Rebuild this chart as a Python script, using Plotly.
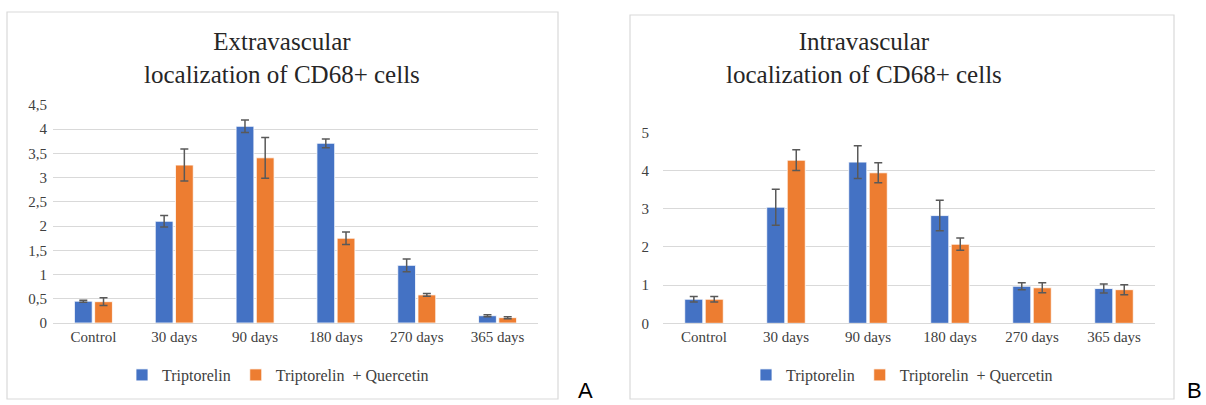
import plotly.graph_objects as go

categories = ["Control", "30 days", "90 days", "180 days", "270 days", "365 days"]
series_names = ["Triptorelin", "Triptorelin  + Quercetin"]

# Panel A: extravascular
extra_trip = [0.45, 2.10, 4.06, 3.71, 1.19, 0.15]
extra_trip_err = [0.02, 0.12, 0.13, 0.09, 0.13, 0.02]
extra_quer = [0.44, 3.26, 3.41, 1.75, 0.58, 0.11]
extra_quer_err = [0.08, 0.33, 0.42, 0.13, 0.03, 0.02]

# Panel B: intravascular
intra_trip = [0.63, 3.04, 4.22, 2.82, 0.97, 0.91]
intra_trip_err = [0.07, 0.47, 0.43, 0.40, 0.09, 0.12]
intra_quer = [0.63, 4.27, 3.94, 2.07, 0.93, 0.88]
intra_quer_err = [0.07, 0.27, 0.26, 0.16, 0.13, 0.13]

extra_tickvals = [0, 0.5, 1, 1.5, 2, 2.5, 3, 3.5, 4, 4.5]
extra_ticktext = ["0", "0,5", "1", "1,5", "2", "2,5", "3", "3,5", "4", "4,5"]
intra_tickvals = [0, 1, 2, 3, 4, 5]
intra_ticktext = ["0", "1", "2", "3", "4", "5"]

title_a = "Extravascular<br>localization of CD68+ cells"
title_b = "Intravascular<br>localization of CD68+ cells"

BLUE = "#4472C4"
ORANGE = "#ED7D31"
ERR = "#595959"
GRID = "#d9d9d9"
TXT = "#404040"
SERIF = "Liberation Serif"
SANS = "Liberation Sans"

W, H = 1206, 405
def px(x):
    return x / W
def py(y):
    return 1 - y / H

fig = go.Figure()

def add_pair(xa, ya, vals1, err1, vals2, err2, legend):
    for name, vals, err, col in [(series_names[0], vals1, err1, BLUE),
                                 (series_names[1], vals2, err2, ORANGE)]:
        fig.add_trace(go.Bar(
            x=categories, y=vals, name=name, xaxis=xa, yaxis=ya,
            marker=dict(color=col, line=dict(color="white", width=0.8)),
            error_y=dict(type="data", array=err, color=ERR, thickness=1.5, width=4),
            legend=legend,
        ))

add_pair("x", "y", extra_trip, extra_trip_err, extra_quer, extra_quer_err, "legend")
add_pair("x2", "y2", intra_trip, intra_trip_err, intra_quer, intra_quer_err, "legend2")

xcommon = dict(type="category", showgrid=False, showline=True, linecolor=GRID, linewidth=1,
               tickfont=dict(family=SERIF, size=15, color=TXT), ticks="", fixedrange=True,
               automargin=False)
ycommon = dict(showgrid=True, gridcolor=GRID, gridwidth=1, zeroline=False, showline=False,
               tickfont=dict(family=SERIF, size=15, color=TXT), ticks="", automargin=False)

fig.update_layout(
    width=W, height=H,
    margin=dict(l=0, r=0, t=0, b=0, autoexpand=False),
    paper_bgcolor="white", plot_bgcolor="white",
    font=dict(family=SERIF),
    barmode="group", bargap=0.5, bargroupgap=0.12,
    showlegend=True,
    xaxis=dict(domain=[px(53), px(538)], anchor="y", **xcommon),
    yaxis=dict(domain=[py(323), py(105)], anchor="x", range=[0, 4.5],
               tickvals=extra_tickvals, ticktext=extra_ticktext, ticklabelstandoff=5, **ycommon),
    xaxis2=dict(domain=[px(663), px(1155)], anchor="y2", **xcommon),
    yaxis2=dict(domain=[py(323.3), py(132.3)], anchor="x2", range=[0, 5],
                tickvals=intra_tickvals, ticktext=intra_ticktext, ticklabelstandoff=13, **ycommon),
    legend=dict(orientation="h", x=px(122), y=py(375), xanchor="left", yanchor="middle",
                font=dict(family=SERIF, size=16, color=TXT), bgcolor="rgba(0,0,0,0)"),
    legend2=dict(orientation="h", x=px(746), y=py(375), xanchor="left", yanchor="middle",
                 font=dict(family=SERIF, size=16, color=TXT), bgcolor="rgba(0,0,0,0)"),
    shapes=[
        dict(type="rect", xref="paper", yref="paper", x0=px(7), x1=px(558), y0=py(399), y1=py(12),
             line=dict(color=GRID, width=1.2), fillcolor="rgba(0,0,0,0)", layer="below"),
        dict(type="rect", xref="paper", yref="paper", x0=px(630), x1=px(1174), y0=py(399), y1=py(15),
             line=dict(color=GRID, width=1.2), fillcolor="rgba(0,0,0,0)", layer="below"),
    ],
    annotations=[
        dict(text=title_a, xref="paper", yref="paper", x=px(282), y=py(58), xanchor="center",
             yanchor="middle", showarrow=False, font=dict(family=SERIF, size=25, color="#262626")),
        dict(text=title_b, xref="paper", yref="paper", x=px(864), y=py(58), xanchor="center",
             yanchor="middle", showarrow=False, font=dict(family=SERIF, size=25, color="#262626")),
        dict(text="A", xref="paper", yref="paper", x=px(585), y=py(390), xanchor="center",
             yanchor="middle", showarrow=False, font=dict(family=SANS, size=22, color="black")),
        dict(text="B", xref="paper", yref="paper", x=px(1194), y=py(390), xanchor="center",
             yanchor="middle", showarrow=False, font=dict(family=SANS, size=22, color="black")),
    ],
)

fig.write_html(
    "out.html",
    config={"displayModeBar": False},
    post_script=(
        "document.documentElement.style.margin='0';"
        "document.documentElement.style.overflow='hidden';"
        "document.body.style.margin='0';"
        "document.body.style.overflow='hidden';"
    ),
)
